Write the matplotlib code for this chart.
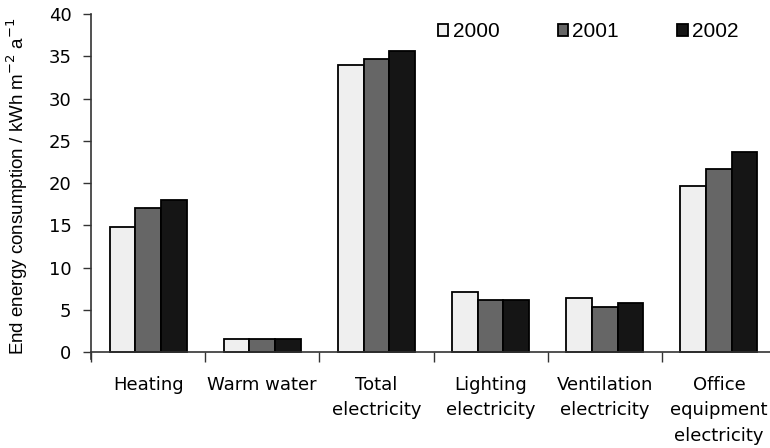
import numpy as np
import matplotlib
matplotlib.use('Agg')
import matplotlib.pyplot as plt

# data
categories = ['Heating', 'Warm water', 'Total\nelectricity', 'Lighting\nelectricity',
              'Ventilation\nelectricity', 'Office\nequipment\nelectricity']
years = ['2000', '2001', '2002']
values_2000 = [14.8, 1.6, 34.0, 7.1, 6.4, 19.6]
values_2001 = [17.1, 1.6, 34.7, 6.1, 5.3, 21.7]
values_2002 = [18.0, 1.6, 35.6, 6.2, 5.8, 23.7]
colors = ['#efefef', '#666666', '#151515']

fig = plt.figure(figsize=(7.7, 4.48), dpi=100)
ax = fig.add_axes([91 / 770, 89.2 / 448, 685 / 770, 344.8 / 448])

# spines first: moving a spine resets the tick settings
for s in ['top', 'right']:
    ax.spines[s].set_visible(False)
for s in ['left', 'bottom']:
    ax.spines[s].set_color('#333333')
    ax.spines[s].set_linewidth(1.2)
ax.spines['bottom'].set_position(('data', 0))

x = np.arange(len(categories))
w = 0.225
for i, (vals, lab) in enumerate(zip([values_2000, values_2001, values_2002], years)):
    ax.bar(x + (i - 1) * w, vals, w, color=colors[i], edgecolor='black', linewidth=1.3, label=lab)

ax.set_xlim(-0.5, len(categories) - 0.5)
ax.set_ylim(-0.8, 40)
ax.set_yticks(range(0, 41, 5))
ax.set_yticklabels([str(v) for v in range(0, 41, 5)], fontsize=13, family='DejaVu Sans')

# category boundaries as ticks, labels centred in between
ax.set_xticks(np.arange(-0.5, len(categories) + 0.5, 1))
ax.set_xticklabels([])
ax.set_xticks(x, minor=True)
ax.set_xticklabels(categories, minor=True, fontsize=13, family='DejaVu Sans',
                   va='top', linespacing=1.55)
ax.tick_params(axis='x', which='minor', length=0, pad=17)
ax.tick_params(axis='x', which='major', length=7, width=1, color='#333333')
ax.tick_params(axis='y', length=6, width=1, color='#333333', pad=8)

ax.set_ylabel('End energy consumption / kWh m$^{-2}$ a$^{-1}$', fontsize=13.5,
              family='Liberation Sans', labelpad=13)

ax.legend(loc='upper left', bbox_to_anchor=(0.4945, 1.0), ncol=3, frameon=False,
          borderaxespad=0, handlelength=0.5, handleheight=0.5, handletextpad=0.2,
          columnspacing=2.8, prop={'family': 'Liberation Sans', 'size': 15})

fig.savefig('out.png', dpi=100)
